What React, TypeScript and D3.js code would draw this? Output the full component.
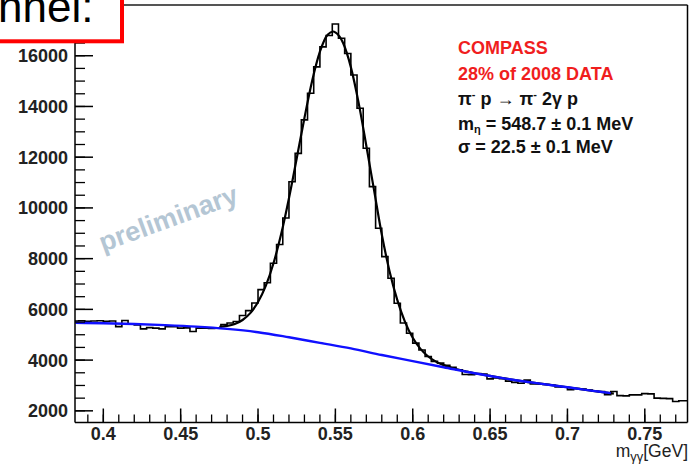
import React from 'react';
import * as d3 from 'd3';

// Histogram: 100 bins of 4 MeV starting at 0.38 GeV
const binLow = 0.38;
const binWidth = 0.004;
const counts = [
  5540, 5550, 5530, 5540, 5550, 5530, 5540, 5320, 5560, 5430,
  5390, 5230, 5280, 5260, 5230, 5320, 5320, 5260, 5270, 5130,
  5260, 5260, 5250, 5260, 5400, 5460, 5520, 5760, 5950, 6250,
  6780, 7050, 7820, 8560, 9600, 11030, 12150, 13470, 14520, 15560,
  16350, 16800, 17250, 16690, 16090, 15240, 13930, 12350, 10840, 9200,
  8080, 7230, 6240, 5460, 5060, 4670, 4400, 4140, 3950, 3880,
  3800, 3720, 3620, 3430, 3420, 3470, 3450, 3260, 3300, 3270,
  3170, 3120, 3090, 3210, 3060, 3060, 3040, 3010, 2940, 2930,
  2830, 2880, 2860, 2820, 2770, 2760, 2640, 2760, 2600, 2590,
  2630, 2630, 2680, 2670, 2500, 2490, 2480, 2370, 2400, 2400,
];

// Background fit (blue)
const bgMass = [0.382, 0.4, 0.42, 0.44, 0.46, 0.48, 0.5, 0.52, 0.54, 0.56, 0.58, 0.6, 0.62, 0.64, 0.66, 0.68, 0.7, 0.72, 0.728];
const bgValue = [5470, 5455, 5425, 5380, 5320, 5230, 5100, 4900, 4680, 4460, 4200, 3960, 3720, 3480, 3270, 3090, 2930, 2760, 2700];

// Total fit (black)
const fitMass = [0.475, 0.48, 0.485, 0.49, 0.495, 0.5, 0.505, 0.51, 0.515, 0.52, 0.525, 0.53, 0.535, 0.54, 0.545, 0.5487, 0.55, 0.555, 0.56, 0.565, 0.57, 0.575, 0.58, 0.585, 0.59, 0.595, 0.6, 0.605, 0.61, 0.615, 0.62, 0.625, 0.63, 0.635, 0.64, 0.65, 0.66, 0.68, 0.7, 0.72, 0.73];
const fitValue = [5308, 5347, 5425, 5582, 5852, 6288, 6925, 7818, 8979, 10384, 11948, 13547, 15012, 16159, 16829, 16955, 16919, 16500, 15550, 14150, 12450, 10700, 8950, 7507, 6375, 5509, 4879, 4441, 4143, 3941, 3802, 3699, 3618, 3548, 3482, 3375, 3270, 3090, 2930, 2760, 2680];

const xTicks = [0.4, 0.45, 0.5, 0.55, 0.6, 0.65, 0.7, 0.75];
const xTickLabels = ['0.4', '0.45', '0.5', '0.55', '0.6', '0.65', '0.7', '0.75'];
const yTicks = [2000, 4000, 6000, 8000, 10000, 12000, 14000, 16000];
const yTickLabels = ['2000', '4000', '6000', '8000', '10000', '12000', '14000', '16000'];

const FONT = "'Liberation Sans', Arial, Helvetica, sans-serif";

export default function App() {
  const W = 689, H = 467;
  const L = 75, R = 687.5, T = 5, B = 422.5;
  const x = d3.scaleLinear().domain([0.3817, 0.7776]).range([L, R]);
  const y = d3.scaleLinear().domain([1540, 18000]).range([B, T]);

  const histPts: [number, number][] = counts.map((c, i) => [binLow + i * binWidth, c]);
  histPts.push([binLow + counts.length * binWidth, counts[counts.length - 1]]);
  const histPath = d3.line<[number, number]>().x(d => x(d[0])).y(d => y(d[1])).curve(d3.curveStepAfter)(histPts) || '';

  const smooth = d3.line<[number, number]>().x(d => x(d[0])).y(d => y(d[1])).curve(d3.curveMonotoneX);
  const bgPath = smooth(bgMass.map((m, i) => [m, bgValue[i]] as [number, number])) || '';
  const fitPath = smooth(fitMass.map((m, i) => [m, fitValue[i]] as [number, number])) || '';

  const xMinor = d3.range(39, 78).map(v => v / 100);
  const yMinor = d3.range(4, 37).map(v => v * 500);

  return (
    <svg width={W} height={H} style={{ position: 'fixed', left: 0, top: 0, background: '#fff' }} fontFamily={FONT}>
      <defs>
        <clipPath id="plot"><rect x={L} y={T} width={R - L} height={B - T} /></clipPath>
      </defs>
      <rect x={0} y={0} width={W} height={H} fill="#fff" />

      {/* watermark */}
      <text x={103} y={252} transform="rotate(-20 103 252)" fontSize={27} fontWeight="bold" fill="#b4c6d4">preliminary</text>

      <g clipPath="url(#plot)">
        <path d={histPath} fill="none" stroke="#000" strokeWidth={1.6} />
        <path d={fitPath} fill="none" stroke="#000" strokeWidth={2.2} />
        <path d={bgPath} fill="none" stroke="#1010ff" strokeWidth={2.4} />
      </g>

      {/* frame */}
      <line x1={L} x2={R} y1={T} y2={T} stroke="#555" strokeWidth={2} />
      <line x1={R} x2={R} y1={T} y2={B} stroke="#000" strokeWidth={1.5} />
      <line x1={L} x2={L} y1={T} y2={B} stroke="#000" strokeWidth={1.5} />
      <line x1={L} x2={R} y1={B} y2={B} stroke="#000" strokeWidth={1.5} />

      {/* x ticks */}
      {xMinor.map((v, i) => (
        <line key={'xm' + i} x1={x(v)} x2={x(v)} y1={B} y2={B - 8} stroke="#000" strokeWidth={1.3} />
      ))}
      {xTicks.map((v, i) => (
        <g key={'xt' + i}>
          <line x1={x(v)} x2={x(v)} y1={B} y2={B - 14} stroke="#000" strokeWidth={1.5} />
          <text x={x(v)} y={440} textAnchor="middle" fontSize={18} fontWeight="bold" fill="#222">{xTickLabels[i]}</text>
        </g>
      ))}

      {/* y ticks */}
      {yMinor.map((v, i) => (
        <line key={'ym' + i} x1={L} x2={L + 10} y1={y(v)} y2={y(v)} stroke="#000" strokeWidth={1.3} />
      ))}
      {yTicks.map((v, i) => (
        <g key={'yt' + i}>
          <line x1={L} x2={L + 18} y1={y(v)} y2={y(v)} stroke="#000" strokeWidth={1.5} />
          <text x={68} y={y(v) + 6.5} textAnchor="end" fontSize={18} fontWeight="bold" fill="#222">{yTickLabels[i]}</text>
        </g>
      ))}

      {/* axis title */}
      <text x={688} y={457} textAnchor="end" fontSize={17.5} fill="#222">
        <tspan>m</tspan>
        <tspan dy={4} fontSize={13}>γγ</tspan>
        <tspan dy={-4}>[GeV]</tspan>
      </text>

      {/* legend */}
      <g fontSize={18} fontWeight="bold">
        <text x={458} y={54} fill="#f01e1e">COMPASS</text>
        <text x={458} y={80} fill="#f01e1e">28% of 2008 DATA</text>
        <text x={458} y={105} fill="#111">
          <tspan>π</tspan><tspan dy={-7} fontSize={11}>-</tspan><tspan dy={7}> p → π</tspan><tspan dy={-7} fontSize={11}>-</tspan><tspan dy={7}> 2γ p</tspan>
        </text>
        <text x={458} y={130} fill="#111">
          <tspan>m</tspan><tspan dy={3} fontSize={11}>η</tspan><tspan dy={-3}> = 548.7 ± 0.1 MeV</tspan>
        </text>
        <text x={458} y={153} fill="#111">σ = 22.5 ± 0.1 MeV</text>
      </g>

      {/* top-left label box */}
      <rect x={-10} y={-10} width={132} height={51.3} fill="#fff" stroke="#f00" strokeWidth={4} />
      <text x={-2} y={22} fontSize={44} fill="#000">nnel:</text>
    </svg>
  );
}
